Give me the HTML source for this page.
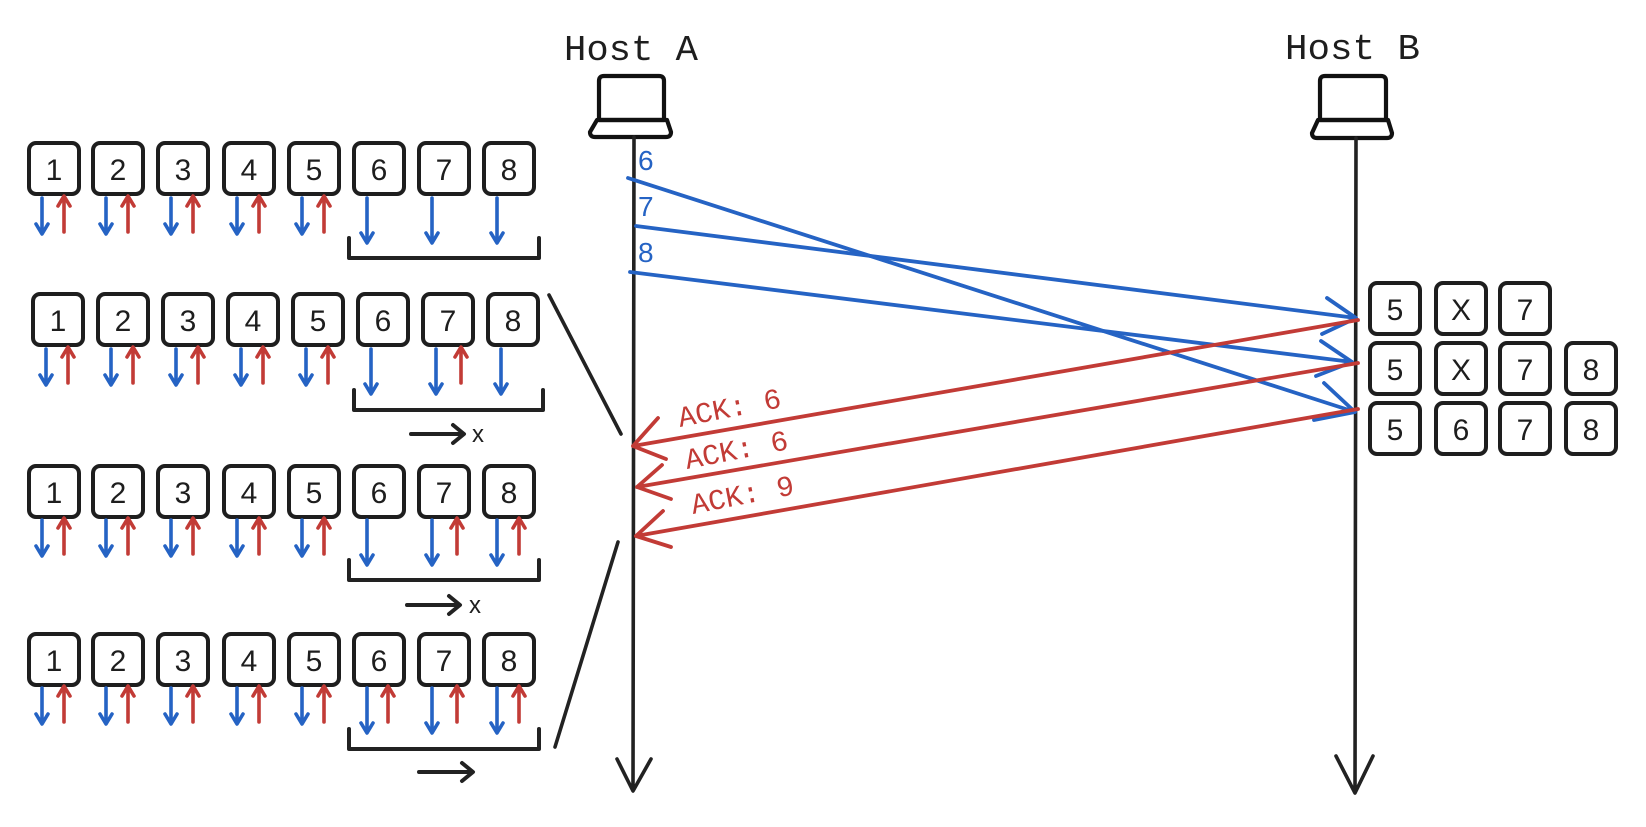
<!DOCTYPE html>
<html><head><meta charset="utf-8"><style>html,body{margin:0;padding:0;background:#fff}svg{display:block}</style></head>
<body>
<svg width="1646" height="827" viewBox="0 0 1646 827" xmlns="http://www.w3.org/2000/svg" font-family="Liberation Sans, sans-serif">
<defs>
<g id="bd"><path d="M0 0V34M-6 26L0 36L6 26" fill="none" stroke="#2563c4" stroke-width="3.6" stroke-linecap="round" stroke-linejoin="round"/></g>
<g id="bdl"><path d="M0 0V43M-6 35L0 45L6 35" fill="none" stroke="#2563c4" stroke-width="3.6" stroke-linecap="round" stroke-linejoin="round"/></g>
<g id="ru"><path d="M0 36V2M-6 10L0 0L6 10" fill="none" stroke="#c23b36" stroke-width="3.6" stroke-linecap="round" stroke-linejoin="round"/></g>
<rect id="bx" width="50" height="51" rx="7" fill="none" stroke="#1e1e1e" stroke-width="4"/>
</defs>
<g fill="#1e1e1e" font-family="Liberation Mono, monospace" font-size="36">
<text x="564" y="60" textLength="134" lengthAdjust="spacingAndGlyphs">Host A</text>
<text x="1285" y="59" textLength="135" lengthAdjust="spacingAndGlyphs">Host B</text>
</g>
<!-- laptops -->
<g fill="none" stroke="#111" stroke-width="4.2" stroke-linejoin="round">
<path d="M599 120V81Q599 76 604 76H659Q664 76 664 81V120Z"/>
<path d="M597 120H667L671 132Q671 137 666 137H595Q590 137 590 132Z"/>
<path d="M1320 120V81Q1320 76 1325 76H1381Q1386 76 1386 81V120Z"/>
<path d="M1318 120H1388L1392 133Q1392 138 1387 138H1317Q1312 138 1312 133Z"/>
</g>
<!-- lifelines -->
<g fill="none" stroke="#222" stroke-width="3.6" stroke-linecap="round" stroke-linejoin="round">
<path d="M634 137L633 790M617 759L633 791L651 759"/>
<path d="M1356 138L1355 792M1336 756L1355 793L1373 756"/>
<path d="M549 295L621 434M555 747L618 542"/>
</g>
<!-- rows -->
<g font-size="30" fill="#1e1e1e" text-anchor="middle">
<use href="#bx" x="29" y="143"/><use href="#bx" x="93" y="143"/><use href="#bx" x="158" y="143"/><use href="#bx" x="224" y="143"/><use href="#bx" x="289" y="143"/><use href="#bx" x="354" y="143"/><use href="#bx" x="419" y="143"/><use href="#bx" x="484" y="143"/>
<text x="54" y="180">1</text><text x="118" y="180">2</text><text x="183" y="180">3</text><text x="249" y="180">4</text><text x="314" y="180">5</text><text x="379" y="180">6</text><text x="444" y="180">7</text><text x="509" y="180">8</text>
<use href="#bx" x="33" y="294"/><use href="#bx" x="98" y="294"/><use href="#bx" x="163" y="294"/><use href="#bx" x="228" y="294"/><use href="#bx" x="293" y="294"/><use href="#bx" x="358" y="294"/><use href="#bx" x="423" y="294"/><use href="#bx" x="488" y="294"/>
<text x="58" y="331">1</text><text x="123" y="331">2</text><text x="188" y="331">3</text><text x="253" y="331">4</text><text x="318" y="331">5</text><text x="383" y="331">6</text><text x="448" y="331">7</text><text x="513" y="331">8</text>
<use href="#bx" x="29" y="466"/><use href="#bx" x="93" y="466"/><use href="#bx" x="158" y="466"/><use href="#bx" x="224" y="466"/><use href="#bx" x="289" y="466"/><use href="#bx" x="354" y="466"/><use href="#bx" x="419" y="466"/><use href="#bx" x="484" y="466"/>
<text x="54" y="503">1</text><text x="118" y="503">2</text><text x="183" y="503">3</text><text x="249" y="503">4</text><text x="314" y="503">5</text><text x="379" y="503">6</text><text x="444" y="503">7</text><text x="509" y="503">8</text>
<use href="#bx" x="29" y="634"/><use href="#bx" x="93" y="634"/><use href="#bx" x="158" y="634"/><use href="#bx" x="224" y="634"/><use href="#bx" x="289" y="634"/><use href="#bx" x="354" y="634"/><use href="#bx" x="419" y="634"/><use href="#bx" x="484" y="634"/>
<text x="54" y="671">1</text><text x="118" y="671">2</text><text x="183" y="671">3</text><text x="249" y="671">4</text><text x="314" y="671">5</text><text x="379" y="671">6</text><text x="444" y="671">7</text><text x="509" y="671">8</text>
<use href="#bx" x="1370" y="283"/><use href="#bx" x="1436" y="283"/><use href="#bx" x="1500" y="283"/>
<use href="#bx" x="1370" y="343"/><use href="#bx" x="1436" y="343"/><use href="#bx" x="1500" y="343"/><use href="#bx" x="1566" y="343"/>
<use href="#bx" x="1370" y="403"/><use href="#bx" x="1436" y="403"/><use href="#bx" x="1500" y="403"/><use href="#bx" x="1566" y="403"/>
<text x="1395" y="320">5</text><text x="1461" y="320">X</text><text x="1525" y="320">7</text>
<text x="1395" y="380">5</text><text x="1461" y="380">X</text><text x="1525" y="380">7</text><text x="1591" y="380">8</text>
<text x="1395" y="440">5</text><text x="1461" y="440">6</text><text x="1525" y="440">7</text><text x="1591" y="440">8</text>
</g>
<use href="#bd" x="42" y="198"/><use href="#bd" x="106" y="198"/><use href="#bd" x="171" y="198"/><use href="#bd" x="237" y="198"/><use href="#bd" x="302" y="198"/>
<use href="#bdl" x="367" y="198"/><use href="#bdl" x="432" y="198"/><use href="#bdl" x="497" y="198"/>
<use href="#ru" x="64" y="196"/><use href="#ru" x="128" y="196"/><use href="#ru" x="193" y="196"/><use href="#ru" x="259" y="196"/><use href="#ru" x="324" y="196"/>
<use href="#bd" x="46" y="349"/><use href="#bd" x="111" y="349"/><use href="#bd" x="176" y="349"/><use href="#bd" x="241" y="349"/><use href="#bd" x="306" y="349"/>
<use href="#bdl" x="371" y="349"/><use href="#bdl" x="436" y="349"/><use href="#bdl" x="501" y="349"/>
<use href="#ru" x="68" y="347"/><use href="#ru" x="133" y="347"/><use href="#ru" x="198" y="347"/><use href="#ru" x="263" y="347"/><use href="#ru" x="328" y="347"/><use href="#ru" x="461" y="347"/>
<use href="#bd" x="42" y="520"/><use href="#bd" x="106" y="520"/><use href="#bd" x="171" y="520"/><use href="#bd" x="237" y="520"/><use href="#bd" x="302" y="520"/>
<use href="#bdl" x="367" y="520"/><use href="#bdl" x="432" y="520"/><use href="#bdl" x="497" y="520"/>
<use href="#ru" x="64" y="518"/><use href="#ru" x="128" y="518"/><use href="#ru" x="193" y="518"/><use href="#ru" x="259" y="518"/><use href="#ru" x="324" y="518"/><use href="#ru" x="457" y="518"/><use href="#ru" x="519" y="518"/>
<use href="#bd" x="42" y="688"/><use href="#bd" x="106" y="688"/><use href="#bd" x="171" y="688"/><use href="#bd" x="237" y="688"/><use href="#bd" x="302" y="688"/>
<use href="#bdl" x="367" y="688"/><use href="#bdl" x="432" y="688"/><use href="#bdl" x="497" y="688"/>
<use href="#ru" x="64" y="686"/><use href="#ru" x="128" y="686"/><use href="#ru" x="193" y="686"/><use href="#ru" x="259" y="686"/><use href="#ru" x="324" y="686"/><use href="#ru" x="388" y="686"/><use href="#ru" x="457" y="686"/><use href="#ru" x="519" y="686"/>
<g fill="none" stroke="#222" stroke-width="4" stroke-linecap="round" stroke-linejoin="round">
<path d="M349 238V258H539V238"/>
<path d="M354 390V410H543V390"/>
<path d="M349 560V580H539V560"/>
<path d="M349 729V749H539V729"/>
<path d="M411 434H463M453 425L464 434L453 443"/>
<path d="M407 605H459M449 596L460 605L449 614"/>
<path d="M419 772H472M462 763L473 772L462 781"/>
</g>
<g font-size="24" fill="#1e1e1e"><text x="472" y="442">x</text><text x="469" y="613">x</text></g>
<g fill="#2563c4" font-size="28"><text x="638" y="170">6</text><text x="638" y="216">7</text><text x="638" y="262">8</text></g>
<g fill="none" stroke="#2563c4" stroke-width="3.8" stroke-linecap="round" stroke-linejoin="round">
<path d="M628 178L1355 412M1324 383L1355 412L1314 420"/>
<path d="M636 226L1356 318M1327 298L1356 318L1322 334"/>
<path d="M630 272L1352 362M1321 341L1352 362L1316 376"/>
</g>
<g fill="none" stroke="#c23b36" stroke-width="3.8" stroke-linecap="round" stroke-linejoin="round">
<path d="M1358 320L633 446M658 418L633 446L666 459"/>
<path d="M1358 363L637 487M662 465L637 487L671 499"/>
<path d="M1358 409L636 536M663 511L636 536L671 547"/>
</g>
<g fill="#c23b36" font-family="Liberation Mono, monospace" font-size="29">
<text transform="translate(680 427) rotate(-11)">ACK: 6</text>
<text transform="translate(687 469) rotate(-11)">ACK: 6</text>
<text transform="translate(693 514) rotate(-11)">ACK: 9</text>
</g>
</svg>
</body></html>
